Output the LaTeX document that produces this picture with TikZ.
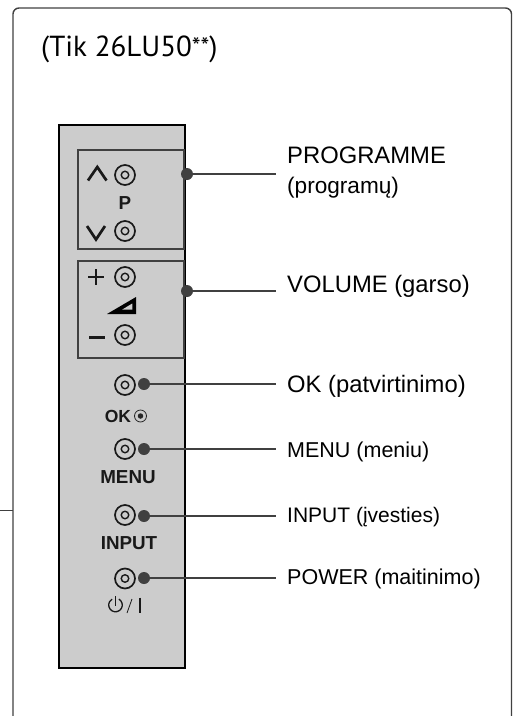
\documentclass[tikz,border=0pt]{standalone}
\usepackage{fontspec}
\setmainfont{Liberation Sans}
\newfontfamily\titlefont{PT Sans}
\definecolor{panelgray}{HTML}{CCCCCC}
\definecolor{inkgray}{HTML}{404040}
\begin{document}
\begin{tikzpicture}[x=1pt,y=-1pt,
    dot/.style={circle,fill=inkgray,inner sep=0pt,minimum size=12pt},
    jack/.style={circle,draw=black!90,line width=1.7pt,inner sep=0pt,minimum size=20pt},
    jackin/.style={circle,draw=black!90,line width=1.4pt,inner sep=0pt,minimum size=7.5pt},
    lead/.style={draw=inkgray,line width=1.2pt},
    tag/.style={anchor=base west,inner sep=0pt,font=\fontsize{#1}{24}\selectfont},
    key/.style={inner sep=0pt,text=black!90,font=\fontsize{18.8}{20}\selectfont\bfseries},
    sym/.style={line width=2.7pt,black!90}]
  \useasboundingbox (0,0) rectangle (513,716);
  \draw[inkgray,line width=1.4pt,rounded corners=6pt] (13,716) -- (13,8) -- (511.5,8) -- (511.5,716);
  \coordinate (tickend) at (0,510);
  \coordinate (tickstart) at (13,510);
  \draw[inkgray,line width=1pt] (tickend) -- (tickstart);
  \node[anchor=base west,inner sep=0pt,font=\titlefont\fontsize{29}{30}\selectfont] (title) at (41,56) {(Tik 26LU50{\raisebox{1pt}{\fontsize{25}{26}\selectfont **}})};

  \draw[black,fill=panelgray,line width=2pt] (58.5,124.5) rectangle (184.5,668);
  \draw[inkgray,line width=1.4pt] (78,150) rectangle (184,249);
  \draw[inkgray,line width=1.4pt] (78,261) rectangle (184,358);

  \draw[sym,line join=miter] (88,180.5) -- (97.3,167) -- (106.5,180.5);
  \draw[sym,line join=miter] (87,226) -- (96,239.5) -- (105,226);
  \node[jack] (progup) at (125,175) {};
  \node[jackin] (progupin) at (progup) {};
  \node[key] (plabel) at (125,203) {P};
  \node[jack] (progdown) at (125,231) {};
  \node[jackin] (progdownin) at (progdown) {};

  \draw[sym,line width=2.2pt] (88,277) -- (104,277);
  \draw[sym,line width=2.2pt] (96,269) -- (96,285);
  \fill[black] (107,314) -- (136,297) -- (136,314) -- cycle;
  \fill[panelgray] (122,309.7) -- (132.3,303.5) -- (132.3,309.7) -- cycle;
  \node[jack] (volup) at (125,277) {};
  \node[jackin] (volupin) at (volup) {};
  \draw[sym,line width=2.2pt] (89,337.5) -- (105,337.5);
  \node[jack] (voldown) at (125,335) {};
  \node[jackin] (voldownin) at (voldown) {};

  \node[jack] (okjack) at (125,385) {};
  \node[jackin] (okjackin) at (okjack) {};
  \node[key,anchor=base,font=\fontsize{17.5}{19}\selectfont\bfseries] (oklabel) at (118,422) {OK};
  \node[circle,draw=black!85,line width=.8pt,inner sep=0pt,minimum size=12pt] (okmark) at (140.5,416) {};
  \node[circle,fill=black!85,inner sep=0pt,minimum size=5.5pt] (okmarkin) at (okmark) {};

  \node[jack] (menujack) at (125,449) {};
  \node[jackin] (menujackin) at (menujack) {};
  \node[key] (menulabel) at (128,477.5) {MENU};

  \node[jack] (inputjack) at (125,515) {};
  \node[jackin] (inputjackin) at (inputjack) {};
  \node[key] (inputlabel) at (129,543) {INPUT};

  \node[jack] (powerjack) at (125,578.5) {};
  \node[jackin] (powerjackin) at (powerjack) {};
  \draw[black!90,line width=1.3pt] (118.9,599.1) arc[start angle=-60,end angle=240,radius=6.8];
  \draw[black!90,line width=1.3pt] (115.5,596) -- (115.5,606);
  \draw[black!90,line width=.8pt] (127,613) -- (132,599);
  \draw[black!90,line width=1.8pt] (140,597.5) -- (140,613);

  \node[dot] (progdot) at (187,174) {};
  \node[dot] (voldot) at (187,291) {};
  \node[dot] (okdot) at (144,384) {};
  \node[dot] (menudot) at (144,449) {};
  \node[dot] (inputdot) at (144,516) {};
  \node[dot] (powerdot) at (144,578) {};

  \coordinate (progend) at (276,174);
  \coordinate (volend) at (276,291);
  \coordinate (okend) at (276,384);
  \coordinate (menuend) at (276,449);
  \coordinate (inputend) at (276,516);
  \coordinate (powerend) at (276,578);
  \draw[lead] (progdot) -- (progend);
  \draw[lead] (voldot) -- (volend);
  \draw[lead] (okdot) -- (okend);
  \draw[lead] (menudot) -- (menuend);
  \draw[lead] (inputdot) -- (inputend);
  \draw[lead] (powerdot) -- (powerend);

  \node[tag=23.8] (progtag) at (287,163) {PROGRAMME};
  \node[tag=22.6] (progsub) at (287,193) {(programų)};
  \node[tag=23.8] (voltag) at (287,292) {VOLUME (garso)};
  \node[tag=23.8] (oktag) at (287,392) {OK (patvirtinimo)};
  \node[tag=21.5] (menutag) at (287,457) {MENU (meniu)};
  \node[tag=21] (inputtag) at (287,522) {INPUT (įvesties)};
  \node[tag=21.5] (powertag) at (287,584) {POWER (maitinimo)};
\end{tikzpicture}
\end{document}
